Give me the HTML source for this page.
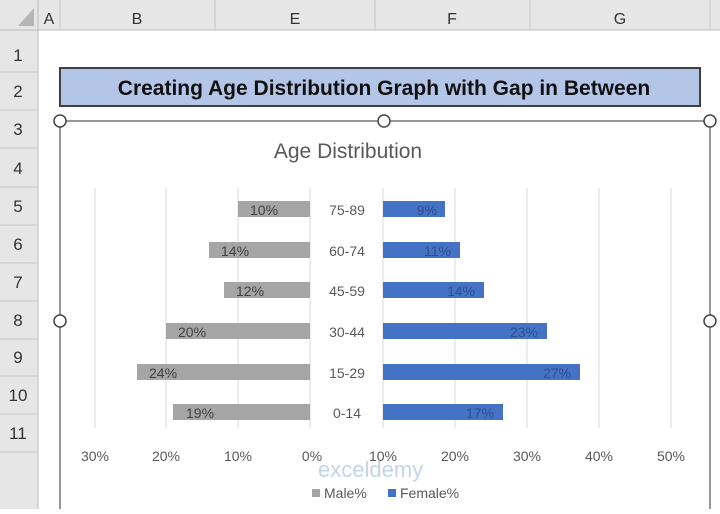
<!DOCTYPE html><html><head><style>
body{margin:0;width:720px;height:509px;overflow:hidden;background:#fff;font-family:"Liberation Sans",sans-serif}
</style></head><body>
<svg width="720" height="509" xmlns="http://www.w3.org/2000/svg" font-family="Liberation Sans, sans-serif">
<rect x="0" y="0" width="720" height="30" fill="#e6e6e6"/>
<rect x="0" y="0" width="38" height="509" fill="#e6e6e6"/>
<line x1="0" y1="30" x2="720" y2="30" stroke="#bbb"/>
<line x1="38" y1="0" x2="38" y2="509" stroke="#bbb"/>
<polygon points="34,8 34,26 18,26" fill="#b5b5b5"/>
<g stroke="#c8c8c8"><line x1="60" y1="0" x2="60" y2="30"/><line x1="215" y1="0" x2="215" y2="30"/><line x1="375" y1="0" x2="375" y2="30"/><line x1="530" y1="0" x2="530" y2="30"/><line x1="710" y1="0" x2="710" y2="30"/>
<line x1="0" y1="72" x2="38" y2="72"/><line x1="0" y1="110" x2="38" y2="110"/><line x1="0" y1="148" x2="38" y2="148"/><line x1="0" y1="187" x2="38" y2="187"/><line x1="0" y1="225" x2="38" y2="225"/><line x1="0" y1="263" x2="38" y2="263"/><line x1="0" y1="301" x2="38" y2="301"/><line x1="0" y1="339" x2="38" y2="339"/><line x1="0" y1="376" x2="38" y2="376"/><line x1="0" y1="414" x2="38" y2="414"/><line x1="0" y1="452" x2="38" y2="452"/></g>
<g font-size="16" fill="#333" text-anchor="middle"><text x="49" y="24">A</text><text x="137" y="24">B</text><text x="295" y="24">E</text><text x="452" y="24">F</text><text x="620" y="24">G</text></g>
<g font-size="17" fill="#333" text-anchor="middle"><text x="18" y="61">1</text><text x="18" y="97">2</text><text x="18" y="135">3</text><text x="18" y="174">4</text><text x="18" y="212">5</text><text x="18" y="250">6</text><text x="18" y="288">7</text><text x="18" y="326">8</text><text x="18" y="363">9</text><text x="18" y="401">10</text><text x="18" y="439">11</text></g>
<rect x="60" y="68" width="640" height="38" fill="#b4c6e7" stroke="#404040" stroke-width="2"/>
<text x="384" y="95" font-size="21" font-weight="bold" fill="#111" text-anchor="middle">Creating Age Distribution Graph with Gap in Between</text>
<rect x="60" y="121" width="650" height="400" fill="#fff" stroke="#777" stroke-width="1.5"/>
<text x="348" y="158" font-size="21" fill="#595959" text-anchor="middle">Age Distribution</text>
<g stroke="#d9d9d9"><line x1="95" y1="188" x2="95" y2="428"/><line x1="166" y1="188" x2="166" y2="428"/><line x1="238" y1="188" x2="238" y2="428"/><line x1="310" y1="188" x2="310" y2="428"/><line x1="383" y1="188" x2="383" y2="428"/><line x1="455" y1="188" x2="455" y2="428"/><line x1="527" y1="188" x2="527" y2="428"/><line x1="599" y1="188" x2="599" y2="428"/><line x1="671" y1="188" x2="671" y2="428"/></g>
<g fill="#a5a5a5"><rect x="238" y="201" width="72" height="16"/><rect x="209" y="242" width="101" height="16"/><rect x="224" y="282" width="86" height="16"/><rect x="166" y="323" width="144" height="16"/><rect x="137" y="364" width="173" height="16"/><rect x="173" y="404" width="137" height="16"/></g>
<g fill="#4472c4"><rect x="383" y="201" width="62" height="16"/><rect x="383" y="242" width="77" height="16"/><rect x="383" y="282" width="101" height="16"/><rect x="383" y="323" width="164" height="16"/><rect x="383" y="364" width="197" height="16"/><rect x="383" y="404" width="120" height="16"/></g>
<g font-size="14" fill="#404040"><text x="250" y="215">10%</text><text x="221" y="256">14%</text><text x="236" y="296">12%</text><text x="178" y="337">20%</text><text x="149" y="378">24%</text><text x="186" y="418">19%</text></g>
<g font-size="14" fill="#2f4f8f" text-anchor="end"><text x="437" y="215">9%</text><text x="451" y="256">11%</text><text x="475" y="296">14%</text><text x="538" y="337">23%</text><text x="571" y="378">27%</text><text x="494" y="418">17%</text></g>
<g font-size="14" fill="#595959" text-anchor="middle"><text x="347" y="215">75-89</text><text x="347" y="256">60-74</text><text x="347" y="296">45-59</text><text x="347" y="337">30-44</text><text x="347" y="378">15-29</text><text x="347" y="418">0-14</text>
<text x="95" y="461">30%</text><text x="166" y="461">20%</text><text x="238" y="461">10%</text><text x="312" y="461">0%</text><text x="383" y="461">10%</text><text x="455" y="461">20%</text><text x="527" y="461">30%</text><text x="599" y="461">40%</text><text x="671" y="461">50%</text></g>
<text x="318" y="477" font-size="22" fill="#c5d3ec">exceldemy</text>
<rect x="312" y="489" width="8" height="8" fill="#a5a5a5"/><text x="324" y="498" font-size="14" fill="#595959">Male%</text>
<rect x="388" y="489" width="8" height="8" fill="#4472c4"/><text x="400" y="498" font-size="14" fill="#595959">Female%</text>
<g fill="#fff" stroke="#444" stroke-width="1.5"><circle cx="60" cy="121" r="6"/><circle cx="384" cy="121" r="6"/><circle cx="710" cy="121" r="6"/><circle cx="60" cy="321" r="6"/><circle cx="710" cy="321" r="6"/></g>
</svg>
</body></html>
